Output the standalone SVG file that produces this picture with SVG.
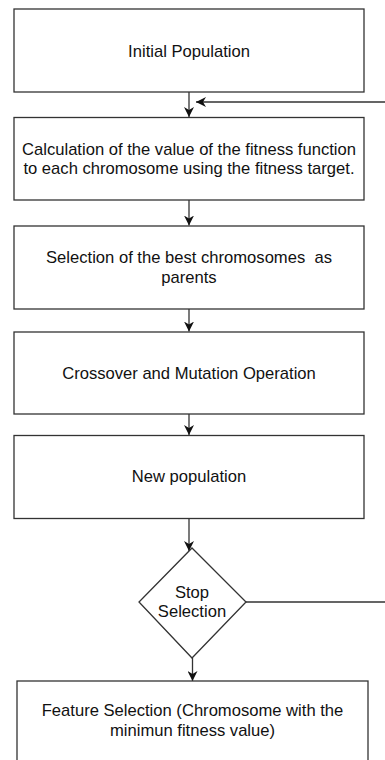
<svg xmlns="http://www.w3.org/2000/svg" width="385" height="760" viewBox="0 0 385 760">
  <defs>
    <marker id="arr" viewBox="0 0 10 10" refX="10" refY="5" markerWidth="10" markerHeight="10" markerUnits="userSpaceOnUse" orient="auto">
      <path d="M0,0 L10,5 L0,10 L3,5 Z" fill="#111"/>
    </marker>
    <style>
      .box { fill: #fff; stroke: #333; stroke-width: 1.3; }
      .lbl { font-family: "Liberation Sans", Arial, sans-serif; font-size: 16.6px; fill: #111; text-anchor: middle; }
      .conn { fill: none; stroke: #333; stroke-width: 1.3; }
    </style>
  </defs>
  <rect width="385" height="760" fill="#fff"/>

  <g id="connectors">
    <line class="conn" x1="189" y1="92" x2="189" y2="117" marker-end="url(#arr)"/>
    <line class="conn" x1="189" y1="200" x2="189" y2="225.5" marker-end="url(#arr)"/>
    <line class="conn" x1="189" y1="309" x2="189" y2="331.5" marker-end="url(#arr)"/>
    <line class="conn" x1="189" y1="414" x2="189" y2="435" marker-end="url(#arr)"/>
    <line class="conn" x1="189" y1="518.5" x2="189" y2="551" marker-end="url(#arr)"/>
    <line class="conn" x1="192.5" y1="658" x2="192.5" y2="681" marker-end="url(#arr)"/>
    <path class="conn" d="M246,602 L392,602 L392,102 L196,102" marker-end="url(#arr)"/>
  </g>

  <g id="initial-population">
    <rect class="box" x="14" y="9" width="350" height="83"/>
    <text class="lbl" x="189" y="57">Initial Population</text>
  </g>

  <g id="fitness-calculation">
    <rect class="box" x="14" y="117.5" width="350" height="82.5"/>
    <text class="lbl" x="189" y="155">Calculation of the value of the fitness function</text>
    <text class="lbl" x="189" y="174">to each chromosome using the fitness target.</text>
  </g>

  <g id="selection">
    <rect class="box" x="14" y="226" width="350" height="83"/>
    <text class="lbl" x="189" y="263" xml:space="preserve">Selection of the best chromosomes  as</text>
    <text class="lbl" x="189" y="283">parents</text>
  </g>

  <g id="crossover-mutation">
    <rect class="box" x="14" y="332" width="350" height="82"/>
    <text class="lbl" x="189" y="379">Crossover and Mutation Operation</text>
  </g>

  <g id="new-population">
    <rect class="box" x="14" y="435.5" width="350" height="83"/>
    <text class="lbl" x="189" y="482">New population</text>
  </g>

  <g id="stop-selection">
    <polygon class="box" points="192,548 246,602 192,658 139,602"/>
    <text class="lbl" x="192" y="598">Stop</text>
    <text class="lbl" x="192" y="617">Selection</text>
  </g>

  <g id="feature-selection">
    <rect class="box" x="17" y="681" width="351" height="90"/>
    <text class="lbl" x="192.5" y="716">Feature Selection (Chromosome with the</text>
    <text class="lbl" x="192.5" y="736">minimun fitness value)</text>
  </g>
</svg>
